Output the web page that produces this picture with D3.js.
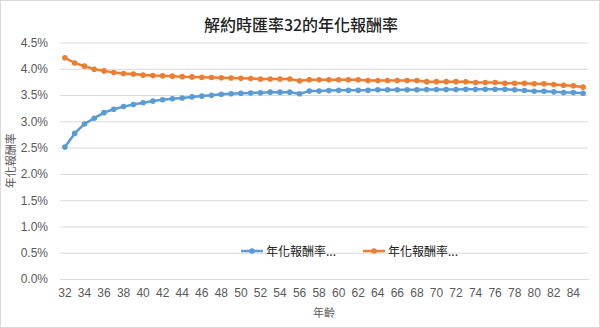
<!DOCTYPE html>
<html>
<head>
<meta charset="utf-8">
<script src="https://cdn.jsdelivr.net/npm/d3@7"></script>
<style>
  html, body { margin: 0; padding: 0; background: #fff; }
  svg { display: block; }
  text { font-family: "Liberation Sans", Arial, "Noto Sans CJK TC", sans-serif; }
  .cjk { font-family: "Noto Sans CJK TC", "Noto Sans CJK SC", sans-serif; }
</style>
</head>
<body>
<svg id="chart" width="600" height="328"></svg>
<script>
// Ages on the category axis
const ages = d3.range(32, 86);

// Annualised return (%) for each surrender age, two scenarios
const seriesA = [
  2.51, 2.77, 2.95, 3.06, 3.165, 3.23, 3.28, 3.32, 3.355, 3.385,
  3.41, 3.43, 3.445, 3.465, 3.48, 3.495, 3.515, 3.525, 3.535, 3.54,
  3.545, 3.555, 3.555, 3.555, 3.525, 3.575, 3.575, 3.585, 3.59, 3.59,
  3.59, 3.59, 3.6, 3.6, 3.6, 3.6, 3.6, 3.605, 3.605, 3.605,
  3.605, 3.61, 3.61, 3.61, 3.61, 3.61, 3.6, 3.586, 3.573, 3.573,
  3.561, 3.548, 3.548, 3.535
];
const seriesB = [
  4.21, 4.11, 4.05, 3.99, 3.96, 3.93, 3.91, 3.90, 3.88, 3.87,
  3.865, 3.86, 3.85, 3.845, 3.84, 3.835, 3.83, 3.825, 3.82, 3.815,
  3.805, 3.805, 3.805, 3.805, 3.77, 3.79, 3.79, 3.79, 3.79, 3.79,
  3.79, 3.778, 3.778, 3.778, 3.778, 3.778, 3.778, 3.755, 3.755, 3.755,
  3.755, 3.753, 3.74, 3.74, 3.74, 3.726, 3.726, 3.726, 3.715, 3.715,
  3.70, 3.688, 3.676, 3.65
];

const seriesNames = ["年化報酬率...", "年化報酬率..."];
const seriesColors = ["#5B9BD5", "#ED7D31"];
const yTicks = [0, 0.5, 1.0, 1.5, 2.0, 2.5, 3.0, 3.5, 4.0, 4.5];
const xTickAges = ages.filter(a => a % 2 === 0);

const title = "解約時匯率32的年化報酬率";
const yTitle = "年化報酬率";
const xTitle = "年齡";

const svg = d3.select("#chart");
const W = 600, H = 328;
const plot = { left: 60, right: 588, top: 42.5, bottom: 279 };

// Outer chart border
svg.append("rect")
  .attr("x", 0.5).attr("y", 0.5)
  .attr("width", W - 1).attr("height", H - 1)
  .attr("fill", "#fff").attr("stroke", "#d9d9d9");

const x = d3.scaleBand().domain(ages).range([plot.left, plot.right]).padding(0);
const y = d3.scaleLinear().domain([0, 4.5]).range([plot.bottom, plot.top]);
const cx = a => x(a) + x.bandwidth() / 2;

// Horizontal gridlines with percentage labels
const yAxis = d3.axisLeft(y)
  .tickValues(yTicks)
  .tickSize(-(plot.right - plot.left))
  .tickPadding(12)
  .tickFormat(d => d.toFixed(1) + "%");
const gy = svg.append("g")
  .attr("transform", `translate(${plot.left},0)`)
  .call(yAxis);
gy.select(".domain").remove();
gy.selectAll(".tick line").attr("stroke", "#d9d9d9").attr("stroke-width", 1);
gy.selectAll(".tick text")
  .attr("fill", "#595959")
  .style("font-size", "12px");

// Category axis labels (every second age)
const xAxis = d3.axisBottom(x)
  .tickValues(xTickAges)
  .tickSize(0)
  .tickPadding(9);
const gx = svg.append("g")
  .attr("transform", `translate(0,${plot.bottom})`)
  .call(xAxis);
gx.select(".domain").attr("stroke", "#d9d9d9");
gx.selectAll(".tick text")
  .attr("fill", "#595959")
  .style("font-size", "12px");

// Series lines with circle markers
const line = d3.line()
  .x((d, i) => cx(ages[i]))
  .y(d => y(d));

[seriesA, seriesB].forEach((vals, k) => {
  const g = svg.append("g");
  g.append("path")
    .datum(vals)
    .attr("d", line)
    .attr("fill", "none")
    .attr("stroke", seriesColors[k])
    .attr("stroke-width", 2.5)
    .attr("stroke-linejoin", "round");
  g.selectAll("circle")
    .data(vals)
    .join("circle")
    .attr("cx", (d, i) => cx(ages[i]))
    .attr("cy", d => y(d))
    .attr("r", 2.8)
    .attr("fill", seriesColors[k]);
});

// Title
svg.append("text")
  .attr("class", "cjk")
  .attr("x", 301).attr("y", 31)
  .attr("text-anchor", "middle")
  .attr("fill", "#222")
  .style("font-size", "16px")
  .style("font-weight", "500")
  .text(title);

// Axis titles
svg.append("text")
  .attr("class", "cjk")
  .attr("transform", `translate(15,${(plot.top + plot.bottom) / 2}) rotate(-90)`)
  .attr("text-anchor", "middle")
  .attr("fill", "#595959")
  .style("font-size", "11px")
  .text(yTitle);

svg.append("text")
  .attr("class", "cjk")
  .attr("x", (plot.left + plot.right) / 2).attr("y", 317)
  .attr("text-anchor", "middle")
  .attr("fill", "#595959")
  .style("font-size", "11px")
  .text(xTitle);

// Legend
const legendX = [241, 363];
const legendY = 251;
seriesNames.forEach((name, k) => {
  const g = svg.append("g").attr("transform", `translate(${legendX[k]},${legendY})`);
  g.append("line")
    .attr("x1", 0).attr("x2", 22)
    .attr("y1", 0).attr("y2", 0)
    .attr("stroke", seriesColors[k])
    .attr("stroke-width", 2.5);
  g.append("circle")
    .attr("cx", 11).attr("cy", 0).attr("r", 2.8)
    .attr("fill", seriesColors[k]);
  g.append("text")
    .attr("class", "cjk")
    .attr("x", 25).attr("y", 4.5)
    .attr("fill", "#222")
    .style("font-size", "12px")
    .text(name);
});
</script>
</body>
</html>
